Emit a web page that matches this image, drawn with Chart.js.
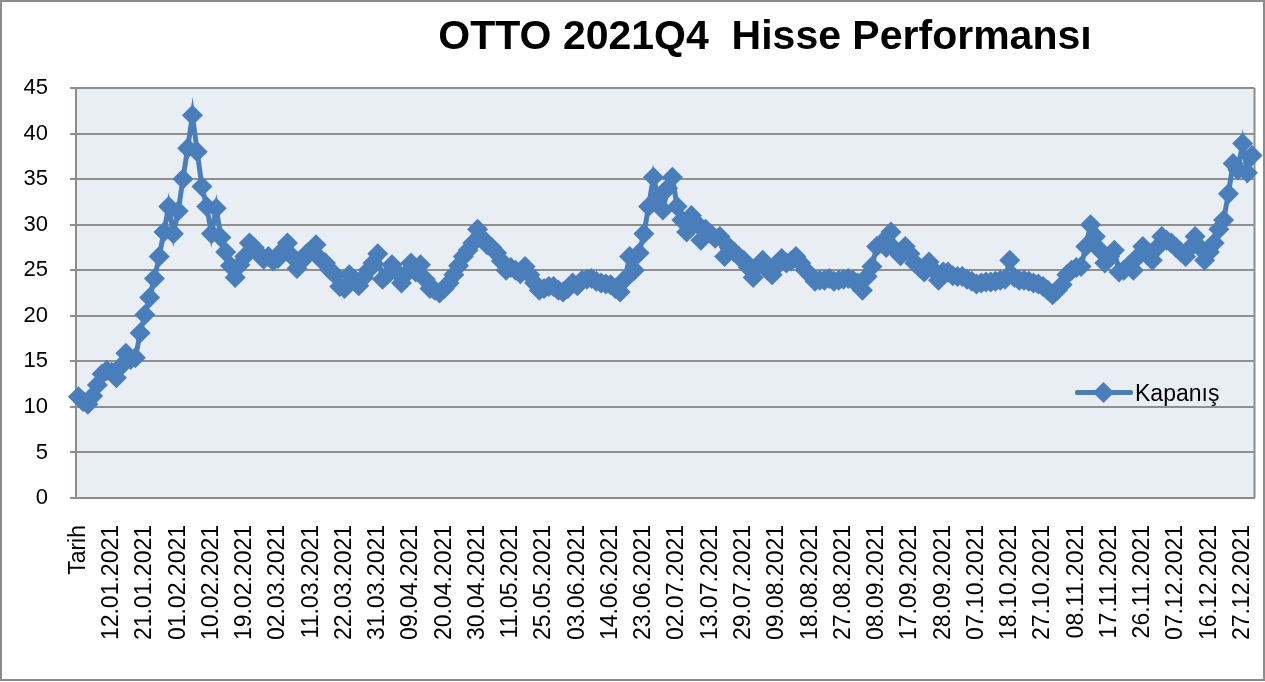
<!DOCTYPE html>
<html lang="tr">
<head>
<meta charset="utf-8">
<title>OTTO 2021Q4 Hisse Performansı</title>
<script src="https://cdn.jsdelivr.net/npm/chart.js@4/dist/chart.umd.min.js"></script>
<style>
    html, body { margin: 0; padding: 0; background: #fff; }
    body { width: 1265px; height: 682px; position: relative; overflow: hidden; font-family: "Liberation Sans", Arial, sans-serif; }
    #frame { position: absolute; left: 0; top: 0; width: 1261px; height: 677px; border: 2px solid #8c8c8c; }
    #chartWrap { position: absolute; left: 0; top: 0; width: 1265px; height: 682px; }
    #title { position: absolute; top: 12px; left: 765px; transform: translateX(-50%); white-space: nowrap;
             font: bold 41px "Liberation Sans", Arial, sans-serif; color: #000; }
    #legend { position: absolute; left: 1075px; top: 379px; height: 28px; display: flex; align-items: center; }
    #legend .sample { position: relative; width: 58px; height: 28px; }
    #legend .sample .ln { position: absolute; left: 0; right: 0; top: 11px; height: 5px; background: #4a7ebb; border-radius: 2px; }
    #legend .sample .mk { position: absolute; left: 21px; top: 6px; width: 15px; height: 15px; background: #4a7ebb; transform: rotate(45deg); }
    #legend .txt { margin-left: 2px; font-size: 23px; color: #000; }
</style>
</head>
<body>
<div id="chartWrap"><canvas id="otto"></canvas></div>
<div id="frame"></div>
<div id="title">OTTO 2021Q4&nbsp;&nbsp;Hisse Performansı</div>
<div id="legend"><div class="sample"><div class="ln"></div><div class="mk"></div></div><span class="txt">Kapanış</span></div>
<script>
// --- Data ---
const seriesName = 'Kapanış';

// every 7th category carries a label on the axis
const tickLabels = [
    'Tarih', '12.01.2021', '21.01.2021', '01.02.2021', '10.02.2021', '19.02.2021',
    '02.03.2021', '11.03.2021', '22.03.2021', '31.03.2021', '09.04.2021', '20.04.2021',
    '30.04.2021', '11.05.2021', '25.05.2021', '03.06.2021', '14.06.2021', '23.06.2021',
    '02.07.2021', '13.07.2021', '29.07.2021', '09.08.2021', '18.08.2021', '27.08.2021',
    '08.09.2021', '17.09.2021', '28.09.2021', '07.10.2021', '18.10.2021', '27.10.2021',
    '08.11.2021', '17.11.2021', '26.11.2021', '07.12.2021', '16.12.2021', '27.12.2021'
];
const labelStep = 7;

const closeValues = [
    11.1, 10.6, 10.3, 11.2, 12.4, 13.6, 14.0, 13.8, 13.2, 14.5,
    15.9, 15.2, 15.4, 18.1, 20.1, 22.0, 24.1, 26.5, 29.2, 32.0,
    29.0, 31.5, 35.0, 38.4, 42.0, 38.0, 34.2, 32.0, 29.0, 31.8,
    28.6, 27.0, 25.5, 24.2, 25.6, 26.5, 28.0, 27.5, 26.8, 26.2,
    26.5, 26.0, 26.3, 27.2, 28.0, 26.5, 25.2, 26.0, 26.8, 27.2,
    27.8, 26.2, 25.8, 25.0, 24.5, 23.2, 23.0, 24.5, 24.0, 23.3,
    24.2, 25.0, 25.8, 26.8, 24.0, 24.5, 25.6, 24.8, 23.6, 24.6,
    25.8, 24.8, 25.6, 24.0, 23.0, 22.8, 22.5, 23.0, 23.6, 24.5,
    25.5, 26.5, 27.2, 28.0, 29.5, 28.5, 27.8, 27.5, 26.9, 26.0,
    25.0, 25.3, 25.0, 24.6, 25.4, 24.5, 23.6, 22.8, 23.0, 23.2,
    23.2, 22.8, 22.6, 23.0, 23.6, 23.3, 23.9, 24.0, 24.1, 23.8,
    23.6, 23.5, 23.4, 23.0, 22.6, 24.0, 26.5, 25.0, 26.9, 29.0,
    32.0, 35.2, 33.0, 31.6, 34.0, 35.2, 32.0, 30.5, 29.2, 31.0,
    30.2, 28.3, 29.5, 29.0, 28.5, 28.7, 26.5, 27.5, 27.0, 26.5,
    26.1, 25.3, 24.2, 25.5, 26.1, 25.0, 24.5, 25.5, 26.3, 25.8,
    26.0, 26.5, 25.8, 25.0, 24.5, 23.8, 23.9, 23.9, 24.1, 23.8,
    23.9, 24.0, 24.1, 23.9, 23.6, 22.8, 24.3, 25.4, 27.6, 28.0,
    27.5, 29.2, 27.2, 26.6, 27.6, 26.8, 25.8, 25.3, 24.8, 25.9,
    25.0, 23.9, 24.8, 24.8, 24.4, 24.3, 24.3, 24.0, 23.8, 23.5,
    23.6, 23.7, 23.7, 23.8, 23.9, 24.0, 26.1, 24.2, 23.9, 23.9,
    23.8, 23.6, 23.5, 23.2, 22.8, 22.3, 22.8, 23.4, 24.5, 25.0,
    25.3, 25.4, 27.6, 30.0, 28.7, 27.2, 25.8, 26.5, 27.2, 24.8,
    25.0, 25.5, 25.0, 26.5, 27.6, 26.8, 26.1, 27.5, 28.7, 28.3,
    28.0, 27.5, 27.0, 26.5, 27.5, 28.7, 27.5, 26.1, 27.0, 28.0,
    29.5, 30.5, 33.4, 36.7, 36.0, 38.9, 35.7, 37.6
];

const yMin = 0, yMax = 45, yStep = 5;

// --- Build category labels (blank between labelled ones) ---
const categories = closeValues.map((_, i) => (i % labelStep === 0 ? (tickLabels[i / labelStep] || '') : ''));

const plotBg = {
    id: 'plotBg',
    beforeDraw(chart) {
        const { ctx, chartArea: a } = chart;
        ctx.save();
        ctx.fillStyle = '#e9edf4';
        ctx.fillRect(a.left, a.top, a.right - a.left, a.bottom - a.top);
        // right edge of plot area
        ctx.strokeStyle = '#8c8c8c';
        ctx.lineWidth = 2;
        ctx.beginPath();
        ctx.moveTo(a.right, a.top);
        ctx.lineTo(a.right, a.bottom);
        ctx.stroke();
        ctx.restore();
    }
};

const canvas = document.getElementById('otto');
canvas.width = 1265;
canvas.height = 682;

new Chart(canvas.getContext('2d'), {
    type: 'line',
    data: {
        labels: categories,
        datasets: [{
            label: seriesName,
            data: closeValues,
            borderColor: '#4a7ebb',
            backgroundColor: '#4a7ebb',
            borderWidth: 5,
            pointStyle: 'rectRot',
            pointRadius: 10.5,
            pointBorderWidth: 0,
            pointBackgroundColor: '#4a7ebb',
            tension: 0,
            fill: false
        }]
    },
    options: {
        responsive: false,
        animation: false,
        devicePixelRatio: 1,
        layout: { padding: { left: 0, top: 88, right: 7, bottom: 0 } },
        plugins: { legend: { display: false }, title: { display: false }, tooltip: { enabled: false } },
        scales: {
            x: {
                type: 'category',
                offset: true,
                afterFit: (s) => { s.height = 184; s.paddingLeft = 0; s.paddingRight = 0; },
                grid: { display: false, drawTicks: false },
                border: { display: true, color: '#8c8c8c', width: 2 },
                ticks: {
                    autoSkip: false,
                    maxRotation: 90,
                    minRotation: 90,
                    padding: 27,
                    color: '#000',
                    font: { family: '"Liberation Sans", Arial, sans-serif', size: 23 }
                }
            },
            y: {
                min: yMin,
                max: yMax,
                afterFit: (s) => { s.width = 76; s.paddingTop = 0; s.paddingBottom = 0; },
                grid: { color: '#8f8f8f', lineWidth: 2, tickLength: 6 },
                border: { display: true, color: '#8c8c8c', width: 2 },
                ticks: {
                    stepSize: yStep,
                    padding: 22,
                    color: '#000',
                    font: { family: '"Liberation Sans", Arial, sans-serif', size: 22 }
                }
            }
        }
    },
    plugins: [plotBg]
});
</script>
</body>
</html>
